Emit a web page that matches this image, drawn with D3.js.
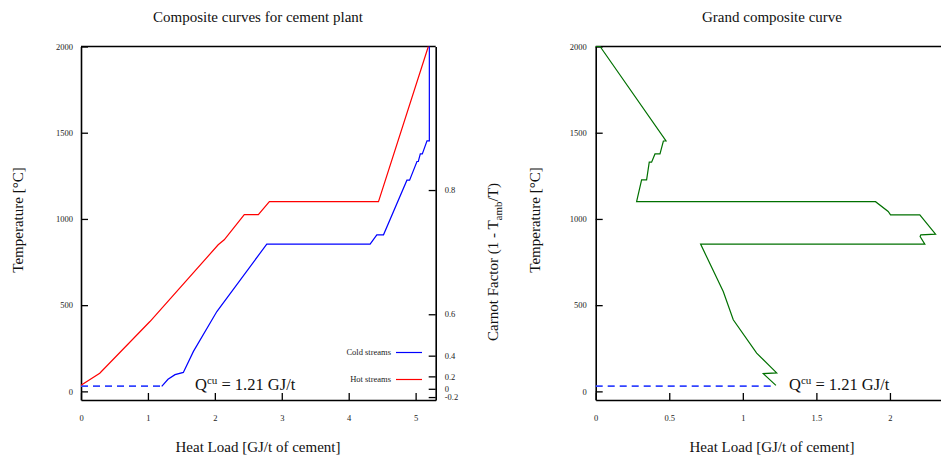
<!DOCTYPE html>
<html lang="en">
<head>
    <style>
        body { margin: 0; background: white; }
        svg { font-family: "Liberation Serif", "Times New Roman", serif; }
        .tick text { font-size: 8.5px; fill: #222; font-family: "Liberation Serif", "Times New Roman", serif; }
        .axis path, .axis line { stroke: black; }
        .axis path { stroke-width: 1.6; }
        .axis line { stroke-width: 1.3; }
        .title { font-size: 15px; fill: #111; }
    </style>
    <script src="https://d3js.org/d3.v7.min.js"></script>
</head>
<body>
    <svg id="chart" width="941" height="459"></svg>

    <script>
        // Hot composite curve (left panel)
        const hotLoad = [0, 0.28, 1.03, 2.05, 2.14, 2.44, 2.65, 2.815, 4.445, 5.19];
        const hotTemp = [35, 105, 405, 850, 879, 1025, 1025, 1100, 1100, 2000];

        // Cold composite curve (left panel)
        const coldLoad = [1.206, 1.30, 1.405, 1.529, 1.68, 2.03, 2.776, 4.32, 4.42, 4.52, 4.87, 4.91, 5.02, 5.04, 5.07, 5.10, 5.17, 5.205, 5.205];
        const coldTemp = [29, 70, 97, 110, 232, 463, 854, 854, 908, 908, 1225, 1225, 1333, 1333, 1377, 1377, 1453, 1453, 2000];

        // Grand composite curve (right panel)
        const gccLoad = [0, 0.03, 0.478, 0.46, 0.437, 0.403, 0.38, 0.364, 0.346, 0.312, 0.278, 1.902, 1.988, 2.004, 2.203, 2.31, 2.21, 2.205, 2.237, 0.713, 0.867, 0.935, 1.094, 1.23, 1.139, 1.225];
        const gccTemp = [2000, 2000, 1452, 1452, 1377, 1377, 1329, 1329, 1227, 1227, 1100, 1100, 1043, 1024, 1024, 912, 908, 898, 854, 854, 579, 415, 222, 107, 103, 35];

        // Cold utility (dashed)
        const cuLoad = [0, 1.21];
        const cuTemp = [30, 30];

        // Ticks
        const tempTicks = [0, 500, 1000, 1500, 2000];
        const leftLoadTicks = [0, 1, 2, 3, 4, 5];
        const rightLoadTicks = [0, 0.5, 1, 1.5, 2];
        const carnotTicks = [-0.2, 0, 0.2, 0.4, 0.6, 0.8];
        const T_AMB = 288.15; // K

        const svg = d3.select("#chart");

        // Scales
        const xL = d3.scaleLinear().domain([0, 5.3]).range([81, 435.7]);
        const xR = d3.scaleLinear().domain([0, 2.347]).range([595.7, 941]);
        const y = d3.scaleLinear().domain([-50, 2000]).range([400, 46.5]);

        const carnotToTemp = c => T_AMB / (1 - c) - 273.15;
        const plain = d => String(d); // keep hyphen minus, no thousands comma

        function zip(xs, ys) { return xs.map((v, i) => [v, ys[i]]); }

        // ---------- Left panel ----------
        const left = svg.append("g");

        left.append("g").attr("class", "axis")
            .attr("transform", "translate(0,400)")
            .call(d3.axisBottom(xL).tickValues(leftLoadTicks).tickSize(-7).tickSizeOuter(0).tickPadding(15).tickFormat(plain));

        left.append("g").attr("class", "axis")
            .attr("transform", "translate(81,0)")
            .call(d3.axisLeft(y).tickValues(tempTicks).tickSize(-7).tickSizeOuter(0).tickPadding(8).tickFormat(plain));

        left.append("g").attr("class", "axis")
            .attr("transform", "translate(435.7,0)")
            .call(d3.axisRight(y).tickValues(carnotTicks.map(carnotToTemp)).tickSize(-7).tickSizeOuter(0).tickPadding(9)
                .tickFormat((d, i) => plain(carnotTicks[i])));

        left.append("line")
            .attr("x1", xL.range()[0]).attr("x2", xL.range()[1])
            .attr("y1", y.range()[1]).attr("y2", y.range()[1])
            .attr("stroke", "black").attr("stroke-width", 1.6);

        const lineL = d3.line().x(d => xL(d[0])).y(d => y(d[1]));

        left.append("path").datum(zip(cuLoad, cuTemp))
            .attr("d", lineL).attr("fill", "none")
            .attr("stroke", "#3344ff").attr("stroke-width", 1.8).attr("stroke-dasharray", "7,5");
        left.append("path").datum(zip(hotLoad, hotTemp))
            .attr("d", lineL).attr("fill", "none").attr("stroke", "#ff0000").attr("stroke-width", 1.2);
        left.append("path").datum(zip(coldLoad, coldTemp))
            .attr("d", lineL).attr("fill", "none").attr("stroke", "#0000ff").attr("stroke-width", 1.2);

        // Legend
        const legend = [["Cold streams", "#0000ff", 352.5], ["Hot streams", "#ff0000", 379.5]];
        legend.forEach(([label, color, ly]) => {
            left.append("text").attr("x", 391).attr("y", ly).attr("dy", "0.35em")
                .attr("text-anchor", "end").attr("font-size", "8.5px").attr("fill", "#222").text(label);
            left.append("line").attr("x1", 396).attr("x2", 422).attr("y1", ly).attr("y2", ly)
                .attr("stroke", color).attr("stroke-width", 1.2);
        });

        function qcu(g, x) {
            const t = g.append("text").attr("x", x).attr("y", 390).attr("font-size", "16.5px").attr("fill", "#111");
            t.append("tspan").text("Q");
            t.append("tspan").attr("dy", -6).attr("font-size", "11px").text("cu");
            t.append("tspan").attr("dy", 6).text(" = 1.21 GJ/t");
        }
        qcu(left, 195);

        left.append("text").attr("class", "title").attr("x", 258).attr("y", 22)
            .attr("text-anchor", "middle").text("Composite curves for cement plant");
        left.append("text").attr("class", "title").attr("x", 258).attr("y", 452)
            .attr("text-anchor", "middle").text("Heat Load [GJ/t of cement]");
        left.append("text").attr("class", "title")
            .attr("transform", "translate(23,220) rotate(-90)")
            .attr("text-anchor", "middle").text("Temperature [°C]");

        const ct = left.append("text").attr("class", "title")
            .attr("transform", "translate(498,262) rotate(-90)")
            .attr("text-anchor", "middle");
        ct.append("tspan").text("Carnot Factor (1 - T");
        ct.append("tspan").attr("dy", 4).attr("font-size", "11px").text("amb");
        ct.append("tspan").attr("dy", -4).text("/T)");

        // ---------- Right panel ----------
        const right = svg.append("g");

        right.append("g").attr("class", "axis")
            .attr("transform", "translate(0,400)")
            .call(d3.axisBottom(xR).tickValues(rightLoadTicks).tickSize(-7).tickSizeOuter(0).tickPadding(15).tickFormat(plain));

        right.append("g").attr("class", "axis")
            .attr("transform", "translate(595.7,0)")
            .call(d3.axisLeft(y).tickValues(tempTicks).tickSize(-7).tickSizeOuter(0).tickPadding(9).tickFormat(plain));

        right.append("line")
            .attr("x1", xR.range()[0]).attr("x2", xR.range()[1])
            .attr("y1", y.range()[1]).attr("y2", y.range()[1])
            .attr("stroke", "black").attr("stroke-width", 1.6);

        const lineR = d3.line().x(d => xR(d[0])).y(d => y(d[1]));

        right.append("path").datum(zip(cuLoad, cuTemp))
            .attr("d", lineR).attr("fill", "none")
            .attr("stroke", "#3344ff").attr("stroke-width", 1.8).attr("stroke-dasharray", "7,5");
        right.append("path").datum(zip(gccLoad, gccTemp))
            .attr("d", lineR).attr("fill", "none").attr("stroke", "#007000").attr("stroke-width", 1.2);

        qcu(right, 789);

        right.append("text").attr("class", "title").attr("x", 772).attr("y", 22)
            .attr("text-anchor", "middle").text("Grand composite curve");
        right.append("text").attr("class", "title").attr("x", 772).attr("y", 452)
            .attr("text-anchor", "middle").text("Heat Load [GJ/t of cement]");
        right.append("text").attr("class", "title")
            .attr("transform", "translate(540,220) rotate(-90)")
            .attr("text-anchor", "middle").text("Temperature [°C]");
    </script>
</body>
</html>
